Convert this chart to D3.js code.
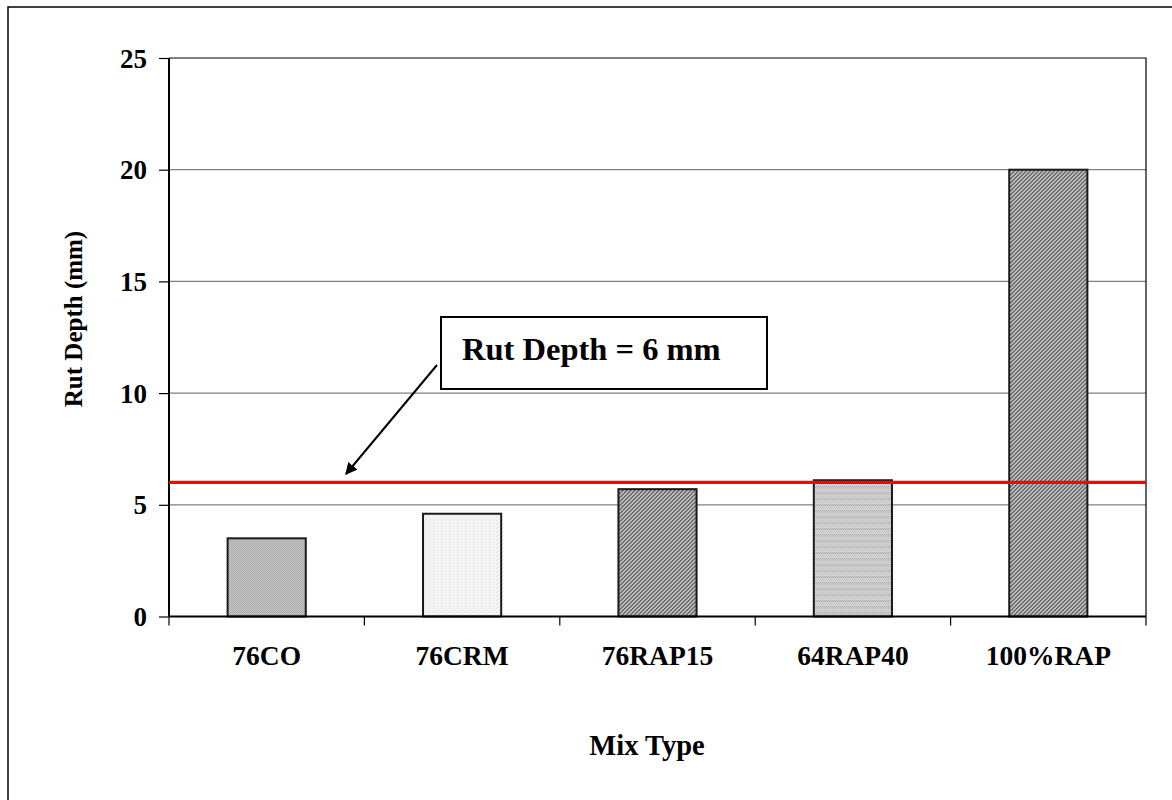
<!DOCTYPE html>
<html>
<head>
<meta charset="utf-8">
<script src="https://cdn.jsdelivr.net/npm/d3@7"></script>
<style>
  html, body { margin: 0; padding: 0; background: #fff; }
  svg { display: block; }
  text { font-family: "Liberation Serif", "Times New Roman", serif; font-weight: bold; fill: #000; }
</style>
</head>
<body>
<svg id="chart" width="1172" height="800"></svg>
<script>
// Rut depth by mix type
const mixTypes = ["76CO", "76CRM", "76RAP15", "64RAP40", "100%RAP"];
const rutDepth = [3.5, 4.6, 5.7, 6.1, 20.0];
const fillPatterns = ["pat-fine", "pat-light", "pat-diag", "pat-band", "pat-diag"];
const yTicks = [0, 5, 10, 15, 20, 25];
const limitDepth = 6;
const limitLabel = "Rut Depth = 6 mm";

const svg = d3.select("#chart");
const plot = { left: 169, right: 1146, top: 58, bottom: 616.5 };

// Hatched fills in the style of spreadsheet pattern fills
const defs = svg.append("defs");
function pattern(id, w, h, bg, cells) {
  const p = defs.append("pattern").attr("id", id).attr("patternUnits", "userSpaceOnUse")
    .attr("width", w).attr("height", h);
  p.append("rect").attr("width", w).attr("height", h).attr("fill", bg);
  cells.forEach(c => p.append("rect").attr("x", c[0]).attr("y", c[1]).attr("width", 1).attr("height", 1).attr("fill", c[2]));
}
pattern("pat-fine", 2, 2, "#c4c4c4", [[0, 0, "#acacac"], [1, 1, "#acacac"]]);
pattern("pat-light", 4, 4, "#f6f6f6", [[0, 0, "#dcdcdc"], [2, 2, "#dcdcdc"], [1, 3, "#e8e8e8"]]);
pattern("pat-diag", 4, 4, "#bcbcbc", [
  [0, 0, "#606060"], [1, 0, "#808080"], [3, 1, "#606060"], [0, 1, "#808080"],
  [2, 2, "#606060"], [3, 2, "#808080"], [1, 3, "#606060"], [2, 3, "#808080"]
]);
pattern("pat-band", 4, 6, "#d2d2d2", [
  [0, 0, "#a8a8a8"], [2, 0, "#a8a8a8"], [1, 1, "#b6b6b6"], [3, 1, "#b6b6b6"],
  [0, 2, "#bababa"], [2, 2, "#bababa"], [1, 4, "#c2c2c2"], [3, 4, "#c2c2c2"]
]);

// Outer chart frame
svg.append("rect").attr("x", 8).attr("y", 7).attr("width", 1180).attr("height", 820)
  .attr("fill", "none").attr("stroke", "#000").attr("stroke-width", 1.5);

const x = d3.scaleBand().domain(mixTypes).range([plot.left, plot.right]).paddingInner(0.6).paddingOuter(0.3);
const xBand = d3.scaleBand().domain(mixTypes).range([plot.left, plot.right]);
const y = d3.scaleLinear().domain([0, 25]).range([plot.bottom, plot.top]);

// Horizontal gridlines
svg.append("g").selectAll("line").data(yTicks.filter(t => t > 0 && t < 25)).join("line")
  .attr("x1", plot.left).attr("x2", plot.right)
  .attr("y1", d => y(d)).attr("y2", d => y(d))
  .attr("stroke", "#808080").attr("stroke-width", 1.2);

// Plot-area border (top and right)
svg.append("path")
  .attr("d", `M${plot.left},${y(25)}H${plot.right}V${plot.bottom}`)
  .attr("fill", "none").attr("stroke", "#000").attr("stroke-width", 1.2);

// Bars
svg.append("g").selectAll("rect").data(mixTypes).join("rect")
  .attr("x", d => x(d)).attr("width", x.bandwidth())
  .attr("y", (d, i) => y(rutDepth[i])).attr("height", (d, i) => plot.bottom - y(rutDepth[i]))
  .attr("fill", (d, i) => `url(#${fillPatterns[i]})`)
  .attr("stroke", "#1a1a1a").attr("stroke-width", 2);

// Y axis
const yAxis = svg.append("g").attr("transform", `translate(${plot.left},0)`)
  .call(d3.axisLeft(y).tickValues(yTicks).tickSize(10).tickPadding(12).tickFormat(d3.format("d")));
yAxis.select(".domain").attr("stroke", "#000").attr("stroke-width", 2).attr("d", `M0,${plot.top}V${plot.bottom}`);
yAxis.selectAll(".tick line").attr("stroke", "#000").attr("stroke-width", 1.2);
yAxis.selectAll(".tick text").style("font-family", "Liberation Serif").style("font-weight", "bold")
  .style("font-size", "27px").attr("dy", "0.34em");

// X axis: ticks at category boundaries
const xAxisG = svg.append("g").attr("transform", `translate(0,${plot.bottom})`);
xAxisG.append("line").attr("x1", plot.left).attr("x2", plot.right).attr("stroke", "#000").attr("stroke-width", 2);
const boundaries = mixTypes.map(d => xBand(d)).concat([plot.right]);
xAxisG.selectAll("line.tk").data(boundaries).join("line").attr("class", "tk")
  .attr("x1", d => d).attr("x2", d => d).attr("y1", 0).attr("y2", 9)
  .attr("stroke", "#000").attr("stroke-width", 1.2);
xAxisG.selectAll("text").data(mixTypes).join("text")
  .attr("x", d => xBand(d) + xBand.bandwidth() / 2).attr("y", 48)
  .attr("text-anchor", "middle").style("font-size", "27.5px").text(d => d);

// Axis titles
svg.append("text").attr("transform", "translate(82,319) rotate(-90)")
  .attr("text-anchor", "middle").style("font-size", "25px").text("Rut Depth (mm)");
svg.append("text").attr("x", 647).attr("y", 755)
  .attr("text-anchor", "middle").style("font-size", "28.5px").text("Mix Type");

// Rut depth limit line
svg.append("line").attr("x1", plot.left).attr("x2", plot.right)
  .attr("y1", y(limitDepth)).attr("y2", y(limitDepth))
  .attr("stroke", "#ff0000").attr("stroke-width", 3.2);

// Callout box and arrow
svg.append("rect").attr("x", 441).attr("y", 317).attr("width", 326).attr("height", 72)
  .attr("fill", "#fff").attr("stroke", "#000").attr("stroke-width", 2);
svg.append("text").attr("x", 462).attr("y", 360).style("font-size", "32.5px").text(limitLabel);

defs.append("marker").attr("id", "arrowhead").attr("viewBox", "0 0 10 10")
  .attr("refX", 9).attr("refY", 5).attr("markerWidth", 12).attr("markerHeight", 12)
  .attr("markerUnits", "userSpaceOnUse").attr("orient", "auto")
  .append("path").attr("d", "M0,0L10,5L0,10Z").attr("fill", "#000");
svg.append("line").attr("x1", 437).attr("y1", 365).attr("x2", 346).attr("y2", 474)
  .attr("stroke", "#000").attr("stroke-width", 2)
  .attr("marker-end", "url(#arrowhead)");
</script>
</body>
</html>
